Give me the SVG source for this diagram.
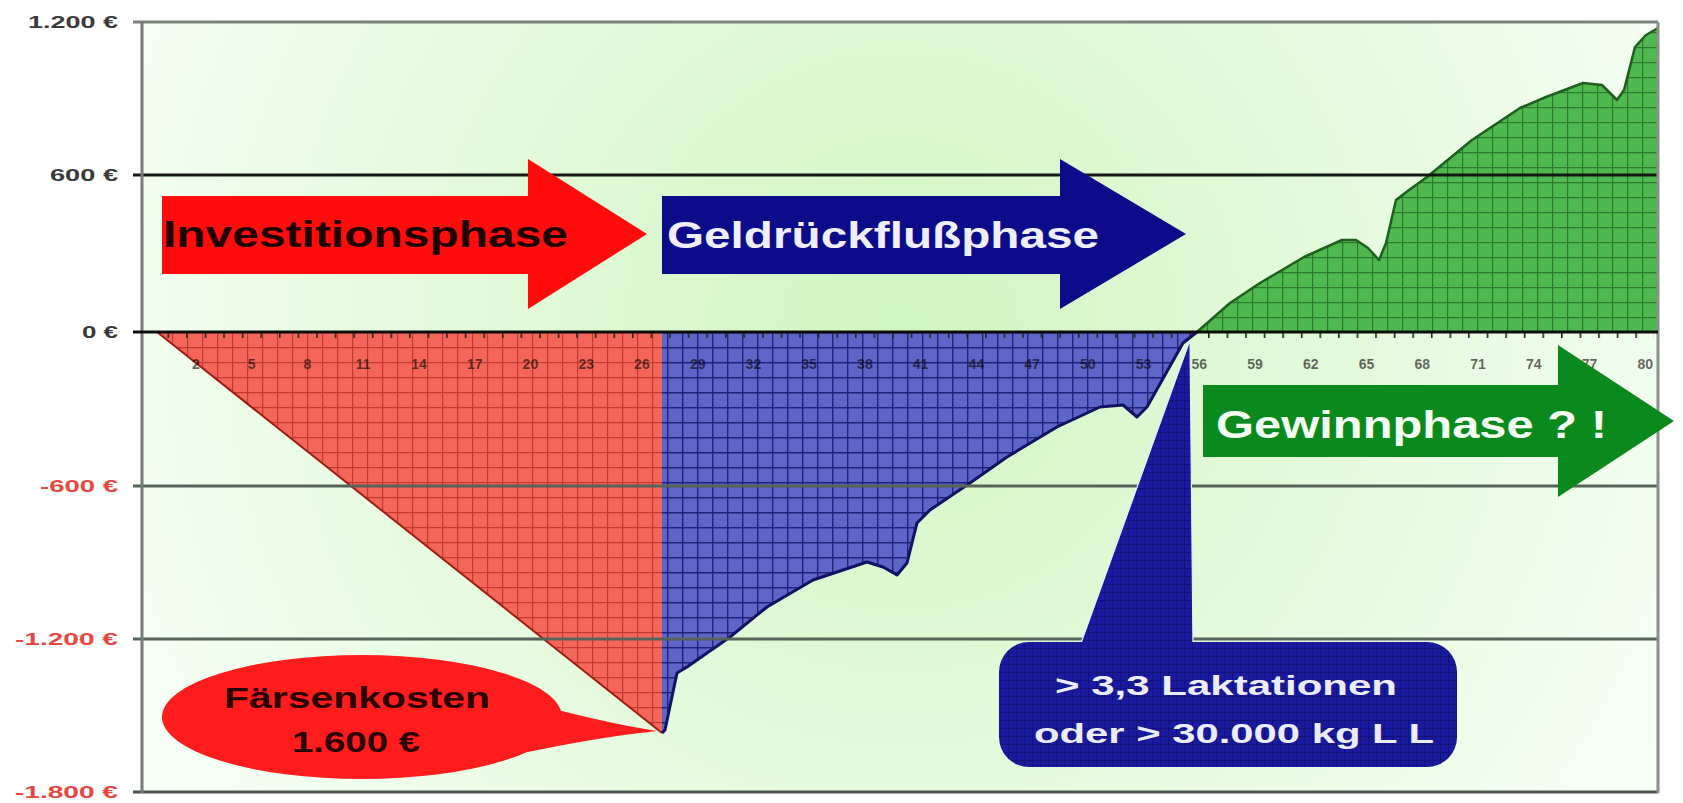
<svg xmlns="http://www.w3.org/2000/svg" width="1683" height="803" viewBox="0 0 1683 803">
<style>
.ylab{font-family:"Liberation Sans",Arial,sans-serif;font-weight:bold;font-size:17px;text-anchor:end}
.pos{fill:#3a3a3a}
.neg{fill:#e8463e}
.xlab{font-family:"Liberation Sans",Arial,sans-serif;font-weight:bold;font-size:14px;text-anchor:middle;fill:#000;fill-opacity:0.6}
.big{font-family:"Liberation Sans",Arial,sans-serif;font-weight:bold}
.gl{stroke-width:3;fill:none}
</style>
<defs>
<radialGradient id="bg" gradientUnits="userSpaceOnUse" cx="900" cy="330" r="900">
<stop offset="0" stop-color="#d0f6c2"/>
<stop offset="0.5" stop-color="#e4fadc"/>
<stop offset="1" stop-color="#f8fff8"/>
</radialGradient>
<pattern id="pRed" patternUnits="userSpaceOnUse" x="142" y="332" width="15" height="15">
<rect width="15" height="15" fill="#f4665a"/>
<path d="M0 0.6H15M0.6 0V15" stroke="#c43a30" stroke-width="1.2"/>
</pattern>
<pattern id="pBlue" patternUnits="userSpaceOnUse" x="142" y="332" width="15" height="15">
<rect width="15" height="15" fill="#5d65c8"/>
<path d="M0 0.7H15M0.7 0V15" stroke="#20227c" stroke-width="1.4"/>
</pattern>
<pattern id="pGreen" patternUnits="userSpaceOnUse" x="142" y="332" width="15" height="15">
<rect width="15" height="15" fill="#4fb84f"/>
<path d="M0 0.6H15M0.6 0V15" stroke="#2c7a2c" stroke-width="1.2"/>
</pattern>
<pattern id="pNavy" patternUnits="userSpaceOnUse" x="0" y="0" width="8" height="8">
<rect width="8" height="8" fill="#1a1a9e"/>
<path d="M0 0.5H8M0.5 0V8" stroke="#12127a" stroke-width="1"/>
</pattern>
<pattern id="pTick" patternUnits="userSpaceOnUse" x="167.5" y="333" width="18.58" height="6">
<rect x="0" y="0" width="1.6" height="5" fill="#222"/>
</pattern>
</defs>

<rect width="1683" height="803" fill="#ffffff"/>
<g id="plot-background">
<rect x="142" y="22" width="1516" height="770" fill="url(#bg)"/>
</g>

<g id="area-investition">
<polygon points="157,332 662,332 662,733" fill="url(#pRed)"/>
<line x1="157" y1="332" x2="662" y2="733" stroke="#a01c14" stroke-width="2"/>
</g>

<g id="area-geldrueckfluss">
<path d="M662,332 L662,733 L665,730 L677,673 L687,667 L730,637 L767,607 L813,580 L867,562 L883,567 L897,575 L907,563 L917,523 L930,510 L970,483 L1007,457 L1057,427 L1100,407 L1123,405 L1137,417 L1147,407 L1183,343 L1197,332 Z" fill="url(#pBlue)"/>
<path d="M662,733 L665,730 L677,673 L687,667 L730,637 L767,607 L813,580 L867,562 L883,567 L897,575 L907,563 L917,523 L930,510 L970,483 L1007,457 L1057,427 L1100,407 L1123,405 L1137,417 L1147,407 L1183,343 L1197,332" fill="none" stroke="#121262" stroke-width="3" stroke-linejoin="round"/>
</g>

<g id="area-gewinn">
<path d="M1197,332 L1230,303 L1260,283 L1304,257 L1342,240 L1356,240 L1368,248 L1379,260 L1386,243 L1396,200 L1409,190 L1427,177 L1472,140 L1520,108 L1546,97 L1583,83 L1602,85 L1617,100 L1624,90 L1635,47 L1646,35 L1658,28 L1658,332 Z" fill="url(#pGreen)"/>
<path d="M1197,332 L1230,303 L1260,283 L1304,257 L1342,240 L1356,240 L1368,248 L1379,260 L1386,243 L1396,200 L1409,190 L1427,177 L1472,140 L1520,108 L1546,97 L1583,83 L1602,85 L1617,100 L1624,90 L1635,47 L1646,35 L1658,28" fill="none" stroke="#1e5e1e" stroke-width="2.5" stroke-linejoin="round"/>
</g>

<g id="gridlines">
<line class="gl" x1="133" y1="22" x2="1658" y2="22" stroke="#7c847c"/>
<line class="gl" x1="133" y1="175" x2="1658" y2="175" stroke="#141814" stroke-width="2.5"/>
<line class="gl" x1="133" y1="486" x2="1658" y2="486" stroke="#56645a"/>
<line class="gl" x1="133" y1="639" x2="1658" y2="639" stroke="#56645a"/>
<line class="gl" x1="133" y1="792" x2="1658" y2="792" stroke="#4a544c"/>
<line class="gl" x1="142" y1="22" x2="142" y2="793" stroke="#767d76"/>
<line class="gl" x1="1658" y1="22" x2="1658" y2="793" stroke="#8a908a"/>
<line class="gl" x1="133" y1="332" x2="1658" y2="332" stroke="#0c0e0c"/>
<rect x="159" y="333" width="1495" height="6" fill="url(#pTick)"/>
</g>

<g id="y-labels">
<text class="ylab pos" x="118" y="28" textLength="90" lengthAdjust="spacingAndGlyphs">1.200 €</text>
<text class="ylab pos" x="118" y="181" textLength="68" lengthAdjust="spacingAndGlyphs">600 €</text>
<text class="ylab pos" x="118" y="338" textLength="36" lengthAdjust="spacingAndGlyphs">0 €</text>
<text class="ylab neg" x="118" y="492" textLength="78" lengthAdjust="spacingAndGlyphs">-600 €</text>
<text class="ylab neg" x="118" y="645" textLength="103" lengthAdjust="spacingAndGlyphs">-1.200 €</text>
<text class="ylab neg" x="118" y="798" textLength="103" lengthAdjust="spacingAndGlyphs">-1.800 €</text>
</g>

<g id="x-labels">
<text class="xlab" x="196" y="369">2</text>
<text class="xlab" x="251.7" y="369">5</text>
<text class="xlab" x="307.5" y="369">8</text>
<text class="xlab" x="363.2" y="369">11</text>
<text class="xlab" x="419" y="369">14</text>
<text class="xlab" x="474.7" y="369">17</text>
<text class="xlab" x="530.4" y="369">20</text>
<text class="xlab" x="586.2" y="369">23</text>
<text class="xlab" x="641.9" y="369">26</text>
<text class="xlab" x="697.7" y="369">29</text>
<text class="xlab" x="753.4" y="369">32</text>
<text class="xlab" x="809.1" y="369">35</text>
<text class="xlab" x="864.9" y="369">38</text>
<text class="xlab" x="920.6" y="369">41</text>
<text class="xlab" x="976.4" y="369">44</text>
<text class="xlab" x="1032.1" y="369">47</text>
<text class="xlab" x="1087.8" y="369">50</text>
<text class="xlab" x="1143.6" y="369">53</text>
<text class="xlab" x="1199.3" y="369">56</text>
<text class="xlab" x="1255.1" y="369">59</text>
<text class="xlab" x="1310.8" y="369">62</text>
<text class="xlab" x="1366.5" y="369">65</text>
<text class="xlab" x="1422.3" y="369">68</text>
<text class="xlab" x="1478" y="369">71</text>
<text class="xlab" x="1533.8" y="369">74</text>
<text class="xlab" x="1589.5" y="369">77</text>
<text class="xlab" x="1645.2" y="369">80</text>
</g>

<g id="arrow-investitionsphase">
<path d="M162,196 H528 V159 L647,234 L528,309 V274 H162 Z" fill="#ff0c0c"/>
<text class="big" x="163" y="247" font-size="37" textLength="405" lengthAdjust="spacingAndGlyphs" fill="#1e0000">Investitionsphase</text>
</g>

<g id="arrow-geldrueckflussphase">
<path d="M662,196 H1060 V159 L1186,234 L1060,309 V274 H662 Z" fill="#0c0c8a"/>
<text class="big" x="667" y="248" font-size="37" textLength="432" lengthAdjust="spacingAndGlyphs" fill="#eeeeff">Geldrückflußphase</text>
</g>

<g id="arrow-gewinnphase">
<path d="M1203,385 H1558 V345 L1674,421 L1558,497 V457 H1203 Z" fill="#0a8a1c"/>
<text class="big" x="1216" y="438" font-size="38" textLength="391" lengthAdjust="spacingAndGlyphs" fill="#f2fff2">Gewinnphase ? !</text>
</g>

<g id="callout-faersenkosten">
<path d="M528,702 Q600,722 657,731 Q600,737 528,752 Z" fill="#ff1c1c"/>
<ellipse cx="362" cy="717" rx="200" ry="62" fill="#ff1c1c"/>
<text class="big" x="357" y="708" font-size="30" text-anchor="middle" textLength="266" lengthAdjust="spacingAndGlyphs" fill="#2a0000">Färsenkosten</text>
<text class="big" x="356" y="752" font-size="30" text-anchor="middle" textLength="128" lengthAdjust="spacingAndGlyphs" fill="#2a0000">1.600 €</text>
</g>

<g id="callout-laktationen">
<polygon points="1080,646 1190,340 1193,646" fill="url(#pNavy)" stroke="#e6f0ff" stroke-width="1.2"/>
<rect x="999" y="642" width="458" height="125" rx="30" ry="30" fill="url(#pNavy)"/>
<text class="big" x="1226" y="695" font-size="28" text-anchor="middle" textLength="342" lengthAdjust="spacingAndGlyphs" fill="#ececff">&gt; 3,3 Laktationen</text>
<text class="big" x="1234" y="743" font-size="28" text-anchor="middle" textLength="400" lengthAdjust="spacingAndGlyphs" fill="#ececff">oder &gt; 30.000 kg L L</text>
</g>
</svg>
